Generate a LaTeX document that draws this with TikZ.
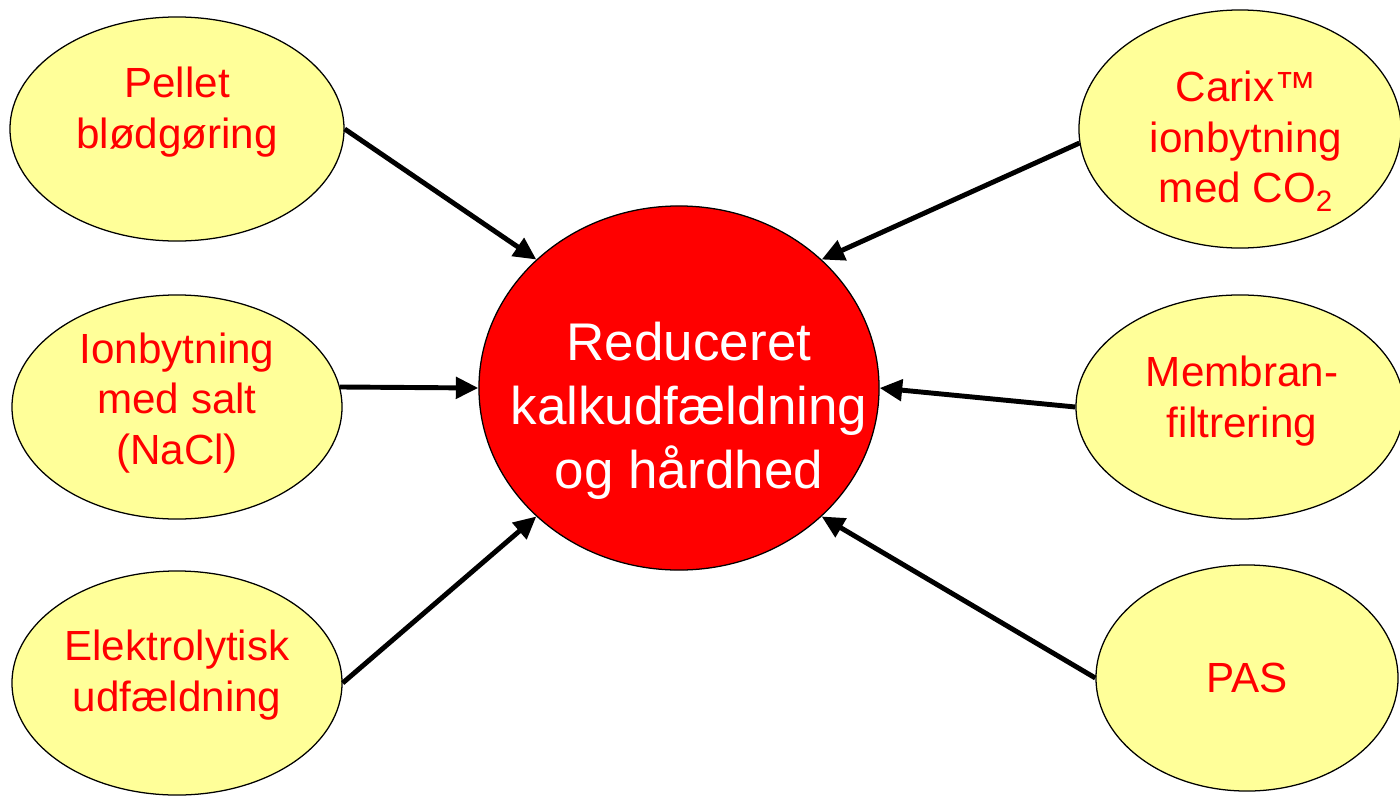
\documentclass[tikz,border=0pt]{standalone}
\usepackage{fontspec}
\setmainfont{Liberation Sans}
\usetikzlibrary{shapes.geometric,arrows.meta}
\definecolor{paleyellow}{HTML}{FFFF99}
\definecolor{pptred}{HTML}{FF0000}
\tikzset{
  oval/.style={ellipse, draw=black, line width=0.9pt, fill=paleyellow, inner sep=0pt},
  hub/.style={ellipse, draw=black, line width=0.9pt, fill=pptred, inner sep=0pt,
              minimum width=10cm, minimum height=9.1cm},
  lbl/.style={align=center, text=pptred, inner sep=0pt, font=\fontsize{30}{36}\selectfont},
  hublbl/.style={align=center, text=white, inner sep=0pt, font=\fontsize{37.7}{45.4}\selectfont},
  feed/.style={line width=3.5pt, -{Triangle[length=16pt,width=15pt]}}
}
\begin{document}
\begin{tikzpicture}[x=0.025cm,y=-0.025cm]
\useasboundingbox (0,0) rectangle (1400,796);
\clip (0,0) rectangle (1400,796);
% central
\node[hub] (center) at (679,388) {};
\node[hublbl] (centertext) at (689,411) {Reduceret\\kalkudfældning\\og hårdhed};
% left ovals
\node[oval, minimum width=8.35cm, minimum height=5.6cm] (pellet) at (177,129) {};
\node[lbl] (pellettext) at (177,112) {Pellet\\blødgøring};
\node[oval, minimum width=8.25cm, minimum height=5.6cm] (ion) at (177,407) {};
\node[lbl] (iontext) at (177,403) {Ionbytning\\med salt\\(NaCl)};
\node[oval, minimum width=8.25cm, minimum height=5.6cm] (ely) at (177,683) {};
\node[lbl] (elytext) at (177,675) {Elektrolytisk\\udfældning};
% right ovals
\node[oval, minimum width=8.05cm, minimum height=5.95cm] (carix) at (1240,129) {};
\node[lbl] (carixtext) at (1246,141) {Carix™\\ionbytning\\med CO\textsubscript{2}};
\node[oval, minimum width=8.2cm, minimum height=5.6cm] (membran) at (1240,407) {};
\node[lbl] (membrantext) at (1242,401) {Membran-\\filtrering};
\node[oval, minimum width=7.55cm, minimum height=5.65cm] (pas) at (1247,678) {};
\node[lbl] (pastext) at (1247,678) {PAS};
% connectors
\draw[feed] (pellet.east) -- (center.138);
\draw[feed] (ion.7) -- (center.west);
\draw[feed] (ely.east) -- (center.222);
\draw[feed] (carix.185) -- (center.42);
\draw[feed] (membran.west) -- (center.east);
\draw[feed] (pas.west) -- (center.318);
\end{tikzpicture}
\end{document}
